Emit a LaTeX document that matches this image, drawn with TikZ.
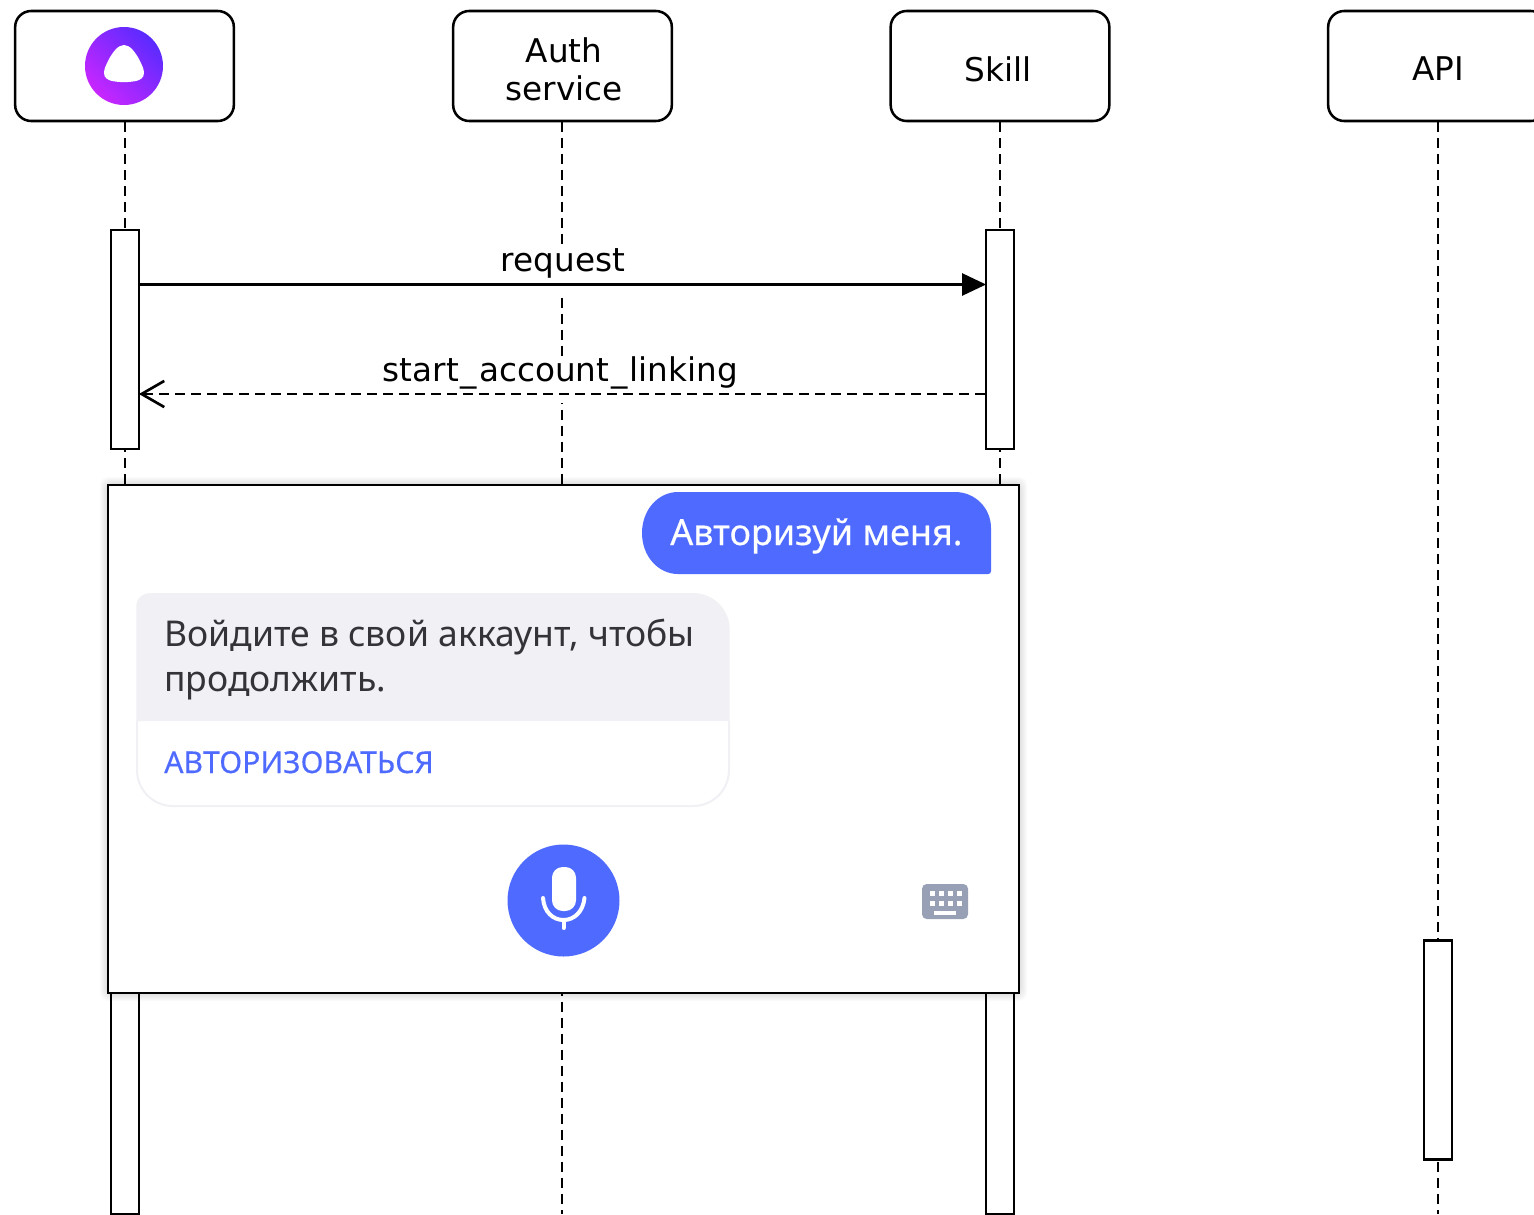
\documentclass[tikz,border=0pt]{standalone}
\usepackage{fontspec}
\setmainfont{DejaVu Sans}
\newfontfamily\uifont{Noto Sans}
\newfontfamily\uimedium[FakeBold=0.35]{Noto Sans}
\usetikzlibrary{arrows.meta,positioning}
\definecolor{uiblue}{HTML}{4F6BFF}
\definecolor{uigrey}{HTML}{F0F0F5}
\definecolor{uitext}{HTML}{333338}
\definecolor{keygrey}{HTML}{97A0B5}
\definecolor{uimag}{HTML}{C826FF}
\definecolor{uivio}{HTML}{5A2BFF}
\newcommand{\wideus}{\kern1.5pt\_\kern1.5pt}
\tikzset{
  x=0.75pt,y=-0.75pt,
  actor/.style={draw=black,line width=1.9pt,rounded corners=12pt,fill=white,minimum width=164pt,minimum height=82.5pt,inner sep=0pt},
  actortext/.style={inner sep=0pt,align=center,font=\fontsize{24.5pt}{28.5pt}\selectfont},
  activation/.style={draw=black,line width=1.9pt,fill=white,minimum width=21pt,inner sep=0pt},
  lifeline/.style={line width=2.2pt,dash pattern=on 7.5pt off 4.5pt},
  msg/.style={line width=2pt},
  msglabel/.style={fill=white,inner sep=0pt,anchor=base,font=\fontsize{24.5pt}{28pt}\selectfont},
  card/.style={draw=black,line width=1.5pt,fill=white,minimum width=683.25pt,minimum height=381pt,inner sep=0pt},
  uitxt/.style={inner sep=0pt,anchor=base west,font=\uifont}
}
\begin{document}
\begin{tikzpicture}
\useasboundingbox[fill=white] (0,0) rectangle (1534,1214);
\clip (0,0) rectangle (1534,1214);
% heads
\node[actor] (alice) at (124.5,66) {};
\node[actor] (auth)  at (562.5,66) {};
\node[actor] (skill) at (1000,66) {};
\node[actor] (api)   at (1437.5,66) {};
\node[actortext] (authtext) at (564,69) {Auth\\service};
\node[actortext] (skilltext) at (998,69) {Skill};
\node[actortext] (apitext) at (1438,69) {API};
% lifeline ends
\coordinate (aliceend) at (125,1214);
\coordinate (authend) at (562,1214);
\coordinate (skillend) at (1000,1214);
\coordinate (apiend) at (1438,1214);
\draw[lifeline] (alice.south -| aliceend) -- (aliceend);
\draw[lifeline] (auth.south -| authend) -- (authend);
\draw[lifeline] (skill.south -| skillend) -- (skillend);
\draw[lifeline] (api.south -| apiend) -- (apiend);
% activations
\node[activation,minimum height=164pt] (a1) at (125,339.5) {};
\node[activation,minimum height=164pt] (s1) at (1000,339.5) {};
\node[activation,minimum height=171pt] (a2) at (125,1100) {};
\node[activation,minimum height=171pt] (s2) at (1000,1100) {};
\node[activation,minimum height=164pt] (api1) at (1438,1050) {};
% messages
\node[msglabel,text height=17.25pt,text depth=16.5pt] (reqlabel) at (563,271) {request};
\node[msglabel,text height=18pt,text depth=16.5pt] (startlabel) at (560.5,381) {start\wideus account\wideus linking};
\coordinate (reqy) at (0,284.5);
\coordinate (starty) at (0,394);
\draw[msg,-{Triangle[length=18pt,width=16.5pt]}] (a1.east |- reqy) -- ([xshift=1pt]s1.west |- reqy);
\draw[msg,dash pattern=on 7.5pt off 4.5pt] (s1.west |- starty) -- ([xshift=1.5pt]a1.east |- starty);
\draw[msg,-{Straight Barb[length=17pt,width=18pt,angle'=60]}] ([xshift=8pt]a1.east |- starty) -- ([xshift=-1pt]a1.east |- starty);
% card shadow
\foreach \s in {1,2,...,8}{
  \fill[black,opacity=0.016,rounded corners=6pt] (108-\s,485-\s) rectangle (1019+\s,993+\s);
}
\node[card] (card) at (563.5,739) {};
% user bubble
\path[fill=uiblue] (678,492) -- (955,492) .. controls (975,492) and (991,508) .. (991,528) -- (991,571) .. controls (991,573) and (990,574) .. (988,574) -- (678,574) .. controls (658,574) and (642,556) .. (642,533) .. controls (642,510) and (658,492) .. (678,492) -- cycle;
\node[uitxt,text=white] (usertxt) at (670,545) {\uimedium\fontsize{27pt}{30pt}\selectfont Авторизуй меня.};
% reply bubble
\path[fill=white,draw=uigrey,line width=1.5pt] (137,721) -- (137,770) .. controls (137,790) and (153,806) .. (173,806) -- (693,806) .. controls (713,806) and (729,790) .. (729,770) -- (729,721);
\path[fill=uigrey] (136.4,721) -- (136.4,606) .. controls (136.4,598) and (143,593) .. (150,593) -- (693,593) .. controls (713,593) and (729.6,609) .. (729.6,629) -- (729.6,721) -- cycle;
\node[uitxt,text=uitext] (reply1) at (164,646) {\fontsize{26.65pt}{32pt}\selectfont Войдите в свой аккаунт, чтобы};
\node[uitxt,text=uitext] (reply2) at (164,691) {\fontsize{26.65pt}{32pt}\selectfont продолжить.};
\node[uitxt,text=uiblue] (link) at (164,773) {\uimedium\fontsize{22.6pt}{26pt}\selectfont АВТОРИЗОВАТЬСЯ};
% microphone
\node[circle,fill=uiblue,minimum size=84pt,inner sep=0pt] (micbtn) at (563.5,900.5) {};
\path[fill=white,rounded corners=8pt] (552,867) rectangle (576,911);
\draw[white,line width=3pt,line cap=round] (543,898) .. controls (544,912) and (553,920) .. (563.5,920) .. controls (574,920) and (583,912) .. (584.5,898);
\draw[white,line width=3pt,line cap=round] (563.5,920) -- (563.5,928);
% keyboard
\path[fill=keygrey,rounded corners=3.5pt] (922,884) rectangle (968,919);
\foreach \kx in {932,941,950,959}{
  \foreach \ky in {893,903}{
    \fill[white] (\kx-2.5,\ky-2.5) rectangle (\kx+2.5,\ky+2.5);
  }
}
\fill[white] (934,911) rectangle (956,915);
% Alice logo
\node[circle,minimum size=58.5pt,inner sep=0pt,shading=axis,left color=uimag,right color=uivio,shading angle=135] (logo) at (124,66) {};
\path[fill=white] (124,45) .. controls (130,45) and (135,52) .. (139,59) .. controls (142,65) and (144,69) .. (144,73) .. controls (144,78) and (140,80) .. (136,81) .. controls (128,82.5) and (120,82.5) .. (112,81) .. controls (108,80) and (104,78) .. (104,73) .. controls (104,69) and (106,65) .. (109,59) .. controls (113,52) and (118,45) .. (124,45) -- cycle;
\end{tikzpicture}
\end{document}
